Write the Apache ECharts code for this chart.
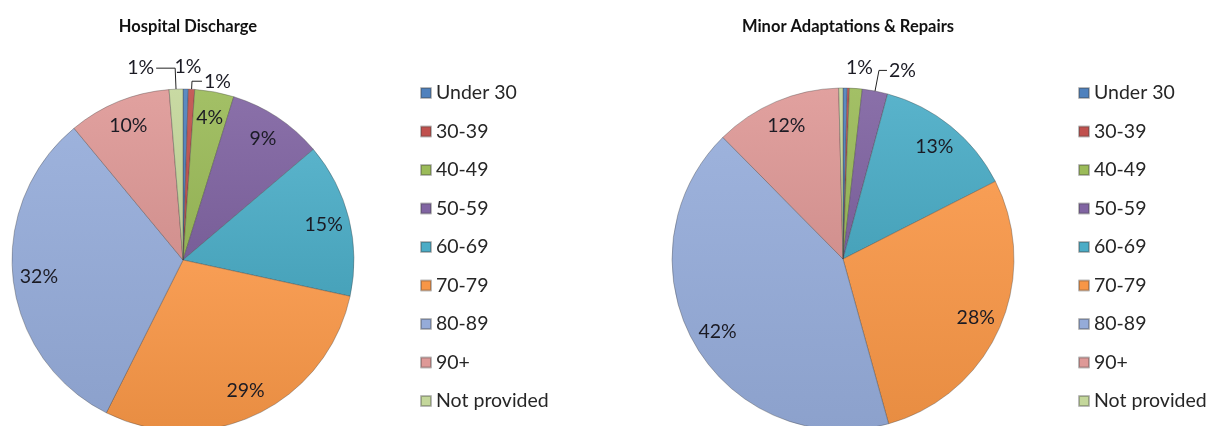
<!DOCTYPE html>
<html>
<head>
<meta charset="utf-8">
<script src="https://cdn.jsdelivr.net/npm/echarts@6/dist/echarts.min.js"></script>
<style>
html,body{margin:0;padding:0;background:#fff}
#chart{width:1213px;height:426px}
</style>
</head>
<body>
<div id="chart"></div>
<script>
const categories = ['Under 30', '30-39', '40-49', '50-59', '60-69', '70-79', '80-89', '90+', 'Not provided']
const hospitalDischarge = [0.5, 0.6, 3.7, 9.0, 14.6, 29.0, 31.6, 9.7, 1.3]
const minorAdaptations = [0.4, 0.2, 1.2, 2.4, 13.3, 28.2, 41.9, 12.0, 0.4]
const colors = ['#4F81BD', '#C0504D', '#9BBB59', '#8064A2', '#4BACC6', '#F79646', '#95ABD9', '#DE9997', '#C4D79B']

// thin slices: label outside, [length, length2, show line, centred over slice]
const outsideLeft = {
  'Under 30': [22, 0, false, true],
  '30-39': [8, 10, true, false],
  'Not provided': [21, 19, true, false]
}
const outsideRight = {
  '40-49': [21, 0, false, true],
  '50-59': [21, 8, true, false]
}

const font = 'Lato, "Open Sans", sans-serif'

// excel-ish shading: a bit lighter at the top of each slice, a bit darker at the bottom
function shade(hex, amt) {
  const n = parseInt(hex.slice(1), 16)
  const f = c => Math.max(0, Math.min(255, Math.round(c + (amt > 0 ? (255 - c) : c) * amt)))
  return 'rgb(' + f(n >> 16) + ',' + f((n >> 8) & 255) + ',' + f(n & 255) + ')'
}
function fillOf(hex) {
  return new echarts.graphic.LinearGradient(0, 0, 0, 1, [
    { offset: 0, color: shade(hex, 0.08) },
    { offset: 1, color: shade(hex, -0.06) }
  ])
}

function pieSeries(values, center, outside) {
  const fill = {
    type: 'pie',
    center: center,
    radius: 171,
    startAngle: 90,
    silent: true,
    label: { show: false },
    labelLine: { show: false },
    itemStyle: { borderColor: 'rgba(60,60,60,0.35)', borderWidth: 1 },
    data: values.map((v, i) => ({ name: categories[i], value: v, itemStyle: { color: fillOf(colors[i]) } }))
  }
  // transparent ring on top, only there to place the labels at ~0.83r like excel does
  const labels = {
    type: 'pie',
    center: center,
    radius: [113, 171],
    startAngle: 90,
    silent: true,
    avoidLabelOverlap: false,
    itemStyle: { color: 'rgba(0,0,0,0)' },
    label: {
      position: 'inside',
      fontFamily: font,
      fontSize: 19.5,
      color: '#1b1b24',
      formatter: p => Math.round(p.value) + '%'
    },
    labelLine: { show: false },
    labelLayout: p => {
      const o = outside[categories[p.dataIndex]]
      return o && o[3] ? { align: 'center' } : {}
    },
    data: values.map((v, i) => {
      const name = categories[i]
      const d = { name: name, value: v }
      const o = outside[name]
      if (Math.round(v) === 0) {
        d.label = { show: false }
      } else if (o) {
        d.label = { position: 'outside', distanceToLabelLine: 2 }
        d.labelLine = { show: o[2], length: o[0], length2: o[1], lineStyle: { color: '#222', width: 1 } }
      }
      return d
    })
  }
  return [fill, labels]
}

const legendBase = {
  orient: 'vertical',
  top: 78,
  icon: 'rect',
  itemWidth: 10,
  itemHeight: 10,
  itemGap: 18.5,
  textStyle: { fontFamily: font, fontSize: 19.5, lineHeight: 20, color: '#262626' },
  data: categories.map((c, i) => ({ name: c, itemStyle: { color: colors[i] } }))
}

const chart = echarts.init(document.getElementById('chart'))
chart.setOption({
  animation: false,
  title: [
    { text: 'Hospital Discharge', left: 183, top: 13, textAlign: 'center',
      textStyle: { fontFamily: font, fontSize: 16.5, fontWeight: 'bold', color: '#111' } },
    { text: 'Minor Adaptations & Repairs', left: 843, top: 13, textAlign: 'center',
      textStyle: { fontFamily: font, fontSize: 16.5, fontWeight: 'bold', color: '#111' } }
  ],
  legend: [
    Object.assign({ left: 415 }, legendBase),
    Object.assign({ left: 1073 }, legendBase)
  ],
  series: [
    ...pieSeries(hospitalDischarge, [183, 260], outsideLeft),
    ...pieSeries(minorAdaptations, [843, 259], outsideRight)
  ]
})
</script>
</body>
</html>
